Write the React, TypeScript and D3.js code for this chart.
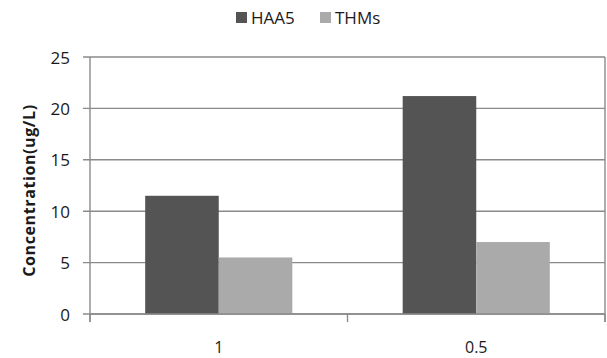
import React from "react";
import * as d3 from "d3";

// Chlorine dose categories and measured by-product concentrations (ug/L)
const categories: string[] = ["1", "0.5"];
const seriesNames: string[] = ["HAA5", "THMs"];
const haa5Values: number[] = [11.5, 21.2];
const thmsValues: number[] = [5.5, 7.0];
const yTicks: number[] = [0, 5, 10, 15, 20, 25];

const colors: Record<string, string> = { HAA5: "#545454", THMs: "#aaaaaa" };

const W = 607;
const H = 358;
const margin = { left: 90, right: 2, top: 57, bottom: 44 };
const FONT = "'Open Sans', Lato, sans-serif";

export default function App() {
  const x0 = d3
    .scaleBand<string>()
    .domain(categories)
    .range([margin.left, W - margin.right])
    .paddingInner(0)
    .paddingOuter(0);

  // Excel-like 150% gap width: bars take 2/(2+1.5) of each band
  const bw = x0.bandwidth();
  const barW = bw / 3.5;
  const x1 = d3
    .scaleBand<string>()
    .domain(seriesNames)
    .range([(bw - 2 * barW) / 2, (bw + 2 * barW) / 2]);

  const y = d3.scaleLinear().domain([0, 25]).range([H - margin.bottom, margin.top]);

  const rows = categories.map((c, i) => ({
    cat: c,
    values: [
      { name: "HAA5", v: haa5Values[i] },
      { name: "THMs", v: thmsValues[i] },
    ],
  }));

  const gridColor = "#8a8a8a";
  const x0px = margin.left;
  const x1px = W - margin.right;
  const boundaries = [x0px, ...categories.map((c) => (x0(c) as number) + bw)];

  return (
    <div style={{ position: "fixed", left: 0, top: 0 }}>
      <svg width={W} height={H} style={{ display: "block", background: "#fff" }}>
        {/* gridlines */}
        {yTicks.map((t) => (
          <g key={t}>
            <line x1={x0px - 7} x2={x1px} y1={y(t)} y2={y(t)} stroke={gridColor} strokeWidth={1.4} />
            <text
              x={70}
              y={y(t)}
              textAnchor="end"
              dominantBaseline="central"
              fontFamily={FONT}
              fontSize={17}
              fill="#1a1a1a"
            >
              {t}
            </text>
          </g>
        ))}

        {/* bars */}
        {rows.map((r) => (
          <g key={r.cat} transform={`translate(${x0(r.cat)},0)`}>
            {r.values.map((d) => (
              <rect
                key={d.name}
                x={x1(d.name)}
                y={y(d.v)}
                width={x1.bandwidth()}
                height={y(0) - y(d.v)}
                fill={colors[d.name]}
              />
            ))}
          </g>
        ))}

        {/* axes */}
        <line x1={x0px} x2={x0px} y1={y(25)} y2={y(0) + 8} stroke={gridColor} strokeWidth={1.4} />
        <line x1={x1px} x2={x1px} y1={y(25)} y2={y(0) + 8} stroke={gridColor} strokeWidth={1.4} />
        <line x1={x0px} x2={x1px} y1={y(0)} y2={y(0)} stroke={gridColor} strokeWidth={1.4} />
        {boundaries.map((b, i) => (
          <line key={i} x1={b} x2={b} y1={y(0)} y2={y(0) + 8} stroke={gridColor} strokeWidth={1.4} />
        ))}

        {/* category labels */}
        {categories.map((c) => (
          <text
            key={c}
            x={(x0(c) as number) + bw / 2}
            y={353}
            textAnchor="middle"
            fontFamily={FONT}
            fontSize={16}
            fill="#1a1a1a"
          >
            {c}
          </text>
        ))}

        {/* y-axis title */}
        <text
          transform={`translate(29,${(y(0) + y(25)) / 2 + 5}) rotate(-90)`}
          textAnchor="middle"
          dominantBaseline="central"
          fontFamily={FONT}
          fontSize={16}
          fontWeight="bold"
          letterSpacing={0.6}
          fill="#1a1a1a"
        >
          Concentration(ug/L)
        </text>

        {/* legend */}
        <g>
          <rect x={236} y={12} width={11} height={11} fill={colors.HAA5} />
          <text x={251} y={17.5} dominantBaseline="central" fontFamily={FONT} fontSize={17} fill="#1a1a1a">
            HAA5
          </text>
          <rect x={320} y={12} width={11} height={11} fill={colors.THMs} />
          <text x={335} y={17.5} dominantBaseline="central" fontFamily={FONT} fontSize={17} fill="#1a1a1a">
            THMs
          </text>
        </g>
      </svg>
    </div>
  );
}
